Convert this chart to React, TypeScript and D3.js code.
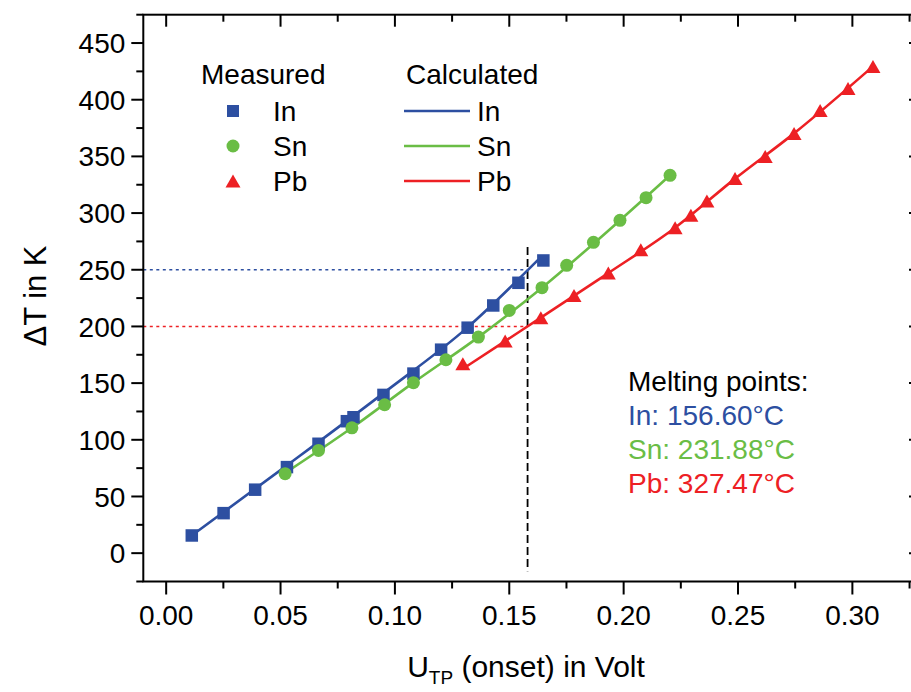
import React from "react";
import * as d3 from "d3";

// Measured onset voltages (V) and temperature differences (K)
const inX = [0.0112, 0.0251, 0.0389, 0.0528, 0.0666, 0.079, 0.0819, 0.095, 0.1081, 0.1202, 0.1318, 0.143, 0.154, 0.1649];
const inY = [15.6, 35.3, 56.0, 75.9, 96.5, 116.4, 119.9, 139.6, 158.4, 179.5, 198.9, 218.5, 238.5, 258.2];

const snX = [0.052, 0.0666, 0.0812, 0.0955, 0.1081, 0.1223, 0.1365, 0.15, 0.1643, 0.1751, 0.1868, 0.1984, 0.2098, 0.2203];
const snY = [70.1, 90.6, 110.6, 130.9, 150.4, 170.6, 190.6, 214.1, 234.2, 253.9, 274.2, 293.6, 313.6, 333.3];

const pbX = [0.1297, 0.1482, 0.1638, 0.1783, 0.1933, 0.2075, 0.2225, 0.2294, 0.2364, 0.2487, 0.2619, 0.2745, 0.2859, 0.2981, 0.309];
const pbY = [167.1, 187.1, 207.7, 227.4, 247.1, 267.7, 287.1, 298.0, 310.6, 330.4, 350.0, 370.3, 390.6, 410.0, 429.4];

// Calculated curves
const inCalcX = [0.0112, 0.0528, 0.095, 0.1319, 0.1627];
const inCalcY = [15.6, 77.4, 141.2, 199.4, 258.9];
const snCalcX = [0.05, 0.0812, 0.1081, 0.1365, 0.1643, 0.1984, 0.2203];
const snCalcY = [68, 110.6, 150.4, 190.6, 234.2, 293.6, 333.3];
const pbCalcX = [0.1315, 0.1482, 0.1638, 0.1933, 0.2225, 0.2487, 0.2745, 0.309];
const pbCalcY = [165, 187.1, 207.7, 247.1, 287.1, 330.4, 370.3, 429.4];

const yTicks = [0, 50, 100, 150, 200, 250, 300, 350, 400, 450];
const xTicks = [0, 0.05, 0.1, 0.15, 0.2, 0.25, 0.3];
const meltingLines = ["In: 156.60°C", "Sn: 231.88°C", "Pb: 327.47°C"];
const legendNames = ["In", "Sn", "Pb"];

const onsetV = 0.158;
const inRef = 250;
const pbRef = 200;

const BLUE = "#2D4FA1";
const GREEN = "#6ABD45";
const RED = "#ED2024";
const COLORS = [BLUE, GREEN, RED];
const FONT = "'Liberation Sans', Arial, Helvetica, sans-serif";

const W = 911;
const H = 692;
const left = 143.3;
const right = 921;
const top = 14.7;
const bottom = 581.5;

const x = d3.scaleLinear().domain([-0.01, 0.33]).range([left, right]);
const y = d3.scaleLinear().domain([-25, 475]).range([bottom, top]);

const zip = (xs: number[], ys: number[]) => xs.map((v, i) => [v, ys[i]] as [number, number]);
const line = d3
  .line<[number, number]>()
  .x((d) => x(d[0]))
  .y((d) => y(d[1]))
  .curve(d3.curveMonotoneX);

function Square({ cx, cy, color, s = 12.5 }: { cx: number; cy: number; color: string; s?: number }) {
  return <rect x={cx - s / 2} y={cy - s / 2} width={s} height={s} fill={color} />;
}
function Dot({ cx, cy, color, r = 6.5 }: { cx: number; cy: number; color: string; r?: number }) {
  return <circle cx={cx} cy={cy} r={r} fill={color} />;
}
function Tri({ cx, cy, color, w = 15, h = 13 }: { cx: number; cy: number; color: string; w?: number; h?: number }) {
  const p = `${cx},${cy - h / 2} ${cx + w / 2},${cy + h / 2} ${cx - w / 2},${cy + h / 2}`;
  return <polygon points={p} fill={color} />;
}

export default function App() {
  const yMinor = d3.range(-25, 476, 25).filter((v) => v % 50 !== 0);
  const xMinor = d3.range(-0.0, 0.331, 0.025).filter((_, i) => i % 2 === 1);
  const fs = 28;

  return (
    <div style={{ position: "absolute", left: 0, top: 0 }}>
      <svg width={W} height={H} style={{ display: "block", background: "#fff" }} fontFamily={FONT}>
        {/* reference lines */}
        <line x1={x(-0.01)} x2={x(onsetV)} y1={y(inRef)} y2={y(inRef)} stroke={BLUE} strokeWidth={1.6} strokeDasharray="3,3.5" />
        <line x1={x(-0.01)} x2={x(onsetV)} y1={y(pbRef)} y2={y(pbRef)} stroke={RED} strokeWidth={1.6} strokeDasharray="3,3.5" />
        <line x1={x(onsetV)} x2={x(onsetV)} y1={y(270)} y2={y(-16)} stroke="#000" strokeWidth={1.8} strokeDasharray="8,4" />

        {/* calculated curves */}
        <path d={line(zip(inCalcX, inCalcY)) || ""} fill="none" stroke={BLUE} strokeWidth={2.6} />
        <path d={line(zip(snCalcX, snCalcY)) || ""} fill="none" stroke={GREEN} strokeWidth={2.6} />
        <path d={line(zip(pbCalcX, pbCalcY)) || ""} fill="none" stroke={RED} strokeWidth={2.6} />

        {/* measured points */}
        {inX.map((v, i) => (
          <Square key={"in" + i} cx={x(v)} cy={y(inY[i])} color={BLUE} />
        ))}
        {snX.map((v, i) => (
          <Dot key={"sn" + i} cx={x(v)} cy={y(snY[i])} color={GREEN} />
        ))}
        {pbX.map((v, i) => (
          <Tri key={"pb" + i} cx={x(v)} cy={y(pbY[i])} color={RED} />
        ))}

        {/* frame */}
        <g stroke="#000" strokeWidth={2} fill="none">
          <rect x={left} y={top} width={right - left} height={bottom - top} />
          {yTicks.map((t) => (
            <g key={"yt" + t}>
              <line x1={left - 12} x2={left} y1={y(t)} y2={y(t)} />
              <line x1={right} x2={right - 12} y1={y(t)} y2={y(t)} />
            </g>
          ))}
          {yMinor.map((t) => (
            <g key={"ym" + t}>
              <line x1={left - 7} x2={left} y1={y(t)} y2={y(t)} />
              <line x1={right} x2={right - 7} y1={y(t)} y2={y(t)} />
            </g>
          ))}
          {xTicks.map((t) => (
            <g key={"xt" + t}>
              <line x1={x(t)} x2={x(t)} y1={bottom} y2={bottom + 13} />
              <line x1={x(t)} x2={x(t)} y1={top} y2={top + 12} />
            </g>
          ))}
          {xMinor.map((t) => (
            <g key={"xm" + t}>
              <line x1={x(t)} x2={x(t)} y1={bottom} y2={bottom + 7} />
              <line x1={x(t)} x2={x(t)} y1={top} y2={top + 7} />
            </g>
          ))}
        </g>

        {/* tick labels */}
        {yTicks.map((t) => (
          <text key={"yl" + t} x={left - 18} y={y(t)} dy="0.36em" textAnchor="end" fontSize={fs}>
            {t}
          </text>
        ))}
        {xTicks.map((t) => (
          <text key={"xl" + t} x={x(t)} y={625} textAnchor="middle" fontSize={fs}>
            {t.toFixed(2)}
          </text>
        ))}

        {/* axis titles */}
        <text transform="translate(46,296) rotate(-90)" textAnchor="middle" fontSize={31}>
          ΔT in K
        </text>
        <text x={526} y={677} textAnchor="middle" fontSize={30}>
          U
          <tspan fontSize={19} dy={7}>TP</tspan>
          <tspan dy={-7}> (onset) in Volt</tspan>
        </text>

        {/* legend */}
        <text x={201} y={84} fontSize={fs}>Measured</text>
        <text x={406} y={84} fontSize={fs}>Calculated</text>
        {legendNames.map((n, i) => {
          const cy = 111 + i * 35;
          const c = COLORS[i];
          return (
            <g key={"lg" + n}>
              {i === 0 && <Square cx={233} cy={cy} color={c} s={12} />}
              {i === 1 && <Dot cx={233} cy={cy} color={c} />}
              {i === 2 && <Tri cx={233} cy={cy} color={c} />}
              <text x={273} y={cy + 10} fontSize={fs}>{n}</text>
              <line x1={404} x2={470} y1={cy} y2={cy} stroke={c} strokeWidth={2.6} />
              <text x={477} y={cy + 10} fontSize={fs}>{n}</text>
            </g>
          );
        })}

        {/* melting points */}
        <text x={628} y={391} fontSize={fs}>Melting points:</text>
        {meltingLines.map((s, i) => (
          <text key={"mp" + i} x={628} y={425 + i * 34} fontSize={fs} fill={COLORS[i]}>
            {s}
          </text>
        ))}
      </svg>
    </div>
  );
}
